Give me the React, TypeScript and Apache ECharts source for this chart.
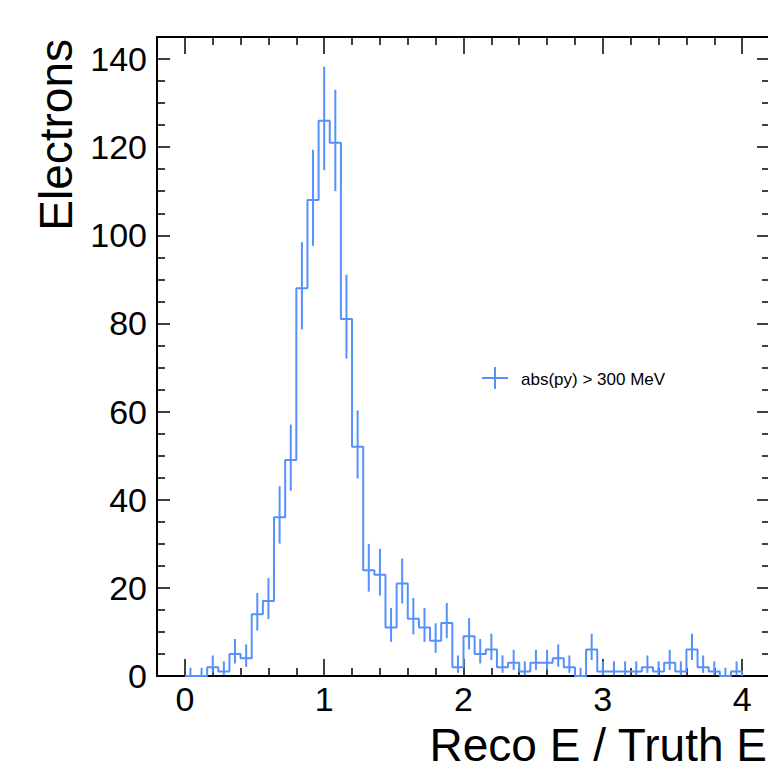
import React, { useEffect, useRef } from "react";
import * as echarts from "echarts";

// Histogram: 50 bins of width 0.08 over [0, 4]
const binStart = 0;
const binWidth = 0.08;
const counts = [
  0, 0, 2, 1, 5, 4, 14, 17, 36, 49,
  88, 108, 126, 121, 81, 52, 24, 23, 11, 21,
  13, 11, 8, 12, 2, 9, 5, 6, 2, 3,
  1, 3, 3, 4, 2, 0, 6, 1, 1, 1,
  1, 2, 1, 3, 1, 6, 2, 1, 0, 1,
];

const xMajorTicks = [0, 1, 2, 3, 4];
const xMinorTicks = [0.2, 0.4, 0.6, 0.8, 1.2, 1.4, 1.6, 1.8, 2.2, 2.4, 2.6, 2.8, 3.2, 3.4, 3.6, 3.8, 4.2];
const yMajorTicks = [0, 20, 40, 60, 80, 100, 120, 140];
const yMinorTicks = [5, 10, 15, 25, 30, 35, 45, 50, 55, 65, 70, 75, 85, 90, 95, 105, 110, 115, 125, 130, 135, 145];

const seriesName = "abs(py) > 300 MeV";
const xTitle = "Reco E / Truth E";
const yTitle = "Electrons";

const COLOR = "#5790fc";
const FONT = "'Liberation Sans', Arial, Helvetica, sans-serif";

// Gehrels approximation of Garwood (Poisson) 68% interval
function poissonLow(n: number) {
  if (n <= 0) return 0;
  const t = 1 - 1 / (9 * n) - 1 / (3 * Math.sqrt(n));
  return n * t * t * t;
}
function poissonHigh(n: number) {
  return n + Math.sqrt(n + 0.75) + 1;
}

export default function App() {
  const ref = useRef<HTMLDivElement>(null);
  useEffect(() => {
    if (!ref.current) return;
    const chart = echarts.init(ref.current, undefined, { renderer: "svg" });

    const stepData: number[][] = counts.map((v, i) => [binStart + i * binWidth, v]);
    stepData.push([binStart + counts.length * binWidth, counts[counts.length - 1]]);
    stepData.push([binStart + counts.length * binWidth, 0]);

    const errData = counts.map((v, i) => [
      binStart + (i + 0.5) * binWidth,
      poissonLow(v),
      poissonHigh(v),
    ]);

    const xBase = {
      type: "value" as const,
      min: -0.2,
      max: 4.2,
      splitLine: { show: false },
    };
    const yBase = {
      type: "value" as const,
      min: 0,
      max: 145,
      splitLine: { show: false },
    };
    const frame = { show: true, onZero: false, lineStyle: { color: "#000", width: 2 } };
    const noLine = { show: false, onZero: false };
    const tickStyle = { color: "#000", width: 1.5 };

    chart.setOption({
      animation: false,
      grid: { left: 157, top: 37, right: 2, bottom: 102, containLabel: false },
      xAxis: [
        {
          ...xBase,
          position: "bottom",
          axisLine: frame,
          axisTick: { show: true, inside: true, length: 17, lineStyle: tickStyle, customValues: xMajorTicks },
          axisLabel: {
            show: true,
            customValues: xMajorTicks,
            fontSize: 34,
            color: "#000",
            fontFamily: FONT,
            margin: 6,
          },
        },
        {
          ...xBase,
          position: "bottom",
          axisLine: noLine,
          axisTick: { show: true, inside: true, length: 8, lineStyle: tickStyle, customValues: xMinorTicks },
          axisLabel: { show: false },
        },
        {
          ...xBase,
          position: "top",
          axisLine: frame,
          axisTick: { show: true, inside: true, length: 17, lineStyle: tickStyle, customValues: xMajorTicks },
          axisLabel: { show: false },
        },
        {
          ...xBase,
          position: "top",
          axisLine: noLine,
          axisTick: { show: true, inside: true, length: 8, lineStyle: tickStyle, customValues: xMinorTicks },
          axisLabel: { show: false },
        },
      ],
      yAxis: [
        {
          ...yBase,
          position: "left",
          axisLine: frame,
          axisTick: { show: true, inside: true, length: 13, lineStyle: tickStyle, customValues: yMajorTicks },
          axisLabel: {
            show: true,
            customValues: yMajorTicks,
            fontSize: 34,
            color: "#000",
            fontFamily: FONT,
            margin: 10,
          },
        },
        {
          ...yBase,
          position: "left",
          axisLine: noLine,
          axisTick: { show: true, inside: true, length: 8, lineStyle: tickStyle, customValues: yMinorTicks },
          axisLabel: { show: false },
        },
        {
          ...yBase,
          position: "right",
          axisLine: frame,
          axisTick: { show: true, inside: true, length: 13, lineStyle: tickStyle, customValues: yMajorTicks },
          axisLabel: { show: false },
        },
        {
          ...yBase,
          position: "right",
          axisLine: noLine,
          axisTick: { show: true, inside: true, length: 8, lineStyle: tickStyle, customValues: yMinorTicks },
          axisLabel: { show: false },
        },
      ],
      series: [
        {
          name: seriesName,
          type: "line",
          xAxisIndex: 0,
          yAxisIndex: 0,
          step: "end",
          data: stepData,
          symbol: "none",
          showSymbol: false,
          lineStyle: { color: COLOR, width: 2 },
          itemStyle: { color: COLOR },
          z: 3,
        },
        {
          name: seriesName + " errors",
          type: "custom",
          xAxisIndex: 0,
          yAxisIndex: 0,
          data: errData,
          encode: { x: 0, y: [1, 2] },
          z: 3,
          renderItem: (params: any, api: any) => {
            const c = api.value(0);
            const p1 = api.coord([c, api.value(1)]);
            const p2 = api.coord([c, api.value(2)]);
            return {
              type: "line",
              shape: { x1: p1[0], y1: p1[1], x2: p2[0], y2: p2[1] },
              style: { stroke: COLOR, lineWidth: 2 },
            };
          },
        },
      ],
      graphic: [
        {
          type: "text",
          x: 767,
          y: 745,
          style: {
            text: xTitle,
            fontSize: 46,
            fontFamily: FONT,
            fill: "#000",
            align: "right",
            verticalAlign: "middle",
          },
        },
        {
          type: "text",
          x: 56,
          y: 39,
          rotation: Math.PI / 2,
          style: {
            text: yTitle,
            fontSize: 46,
            fontFamily: FONT,
            fill: "#000",
            align: "right",
            verticalAlign: "middle",
          },
        },
        {
          type: "line",
          shape: { x1: 482, y1: 378, x2: 508, y2: 378 },
          style: { stroke: COLOR, lineWidth: 2 },
        },
        {
          type: "line",
          shape: { x1: 495, y1: 367, x2: 495, y2: 389 },
          style: { stroke: COLOR, lineWidth: 2 },
        },
        {
          type: "text",
          x: 521,
          y: 379,
          style: {
            text: seriesName,
            fontSize: 17,
            fontFamily: FONT,
            fill: "#000",
            align: "left",
            verticalAlign: "middle",
          },
        },
      ],
    });
    return () => chart.dispose();
  }, []);

  return (
    <div
      style={{
        position: "fixed",
        left: 0,
        top: 0,
        width: 768,
        height: 778,
        overflow: "hidden",
        background: "#fff",
      }}
    >
      <div ref={ref} style={{ width: 772, height: 778 }} />
    </div>
  );
}
